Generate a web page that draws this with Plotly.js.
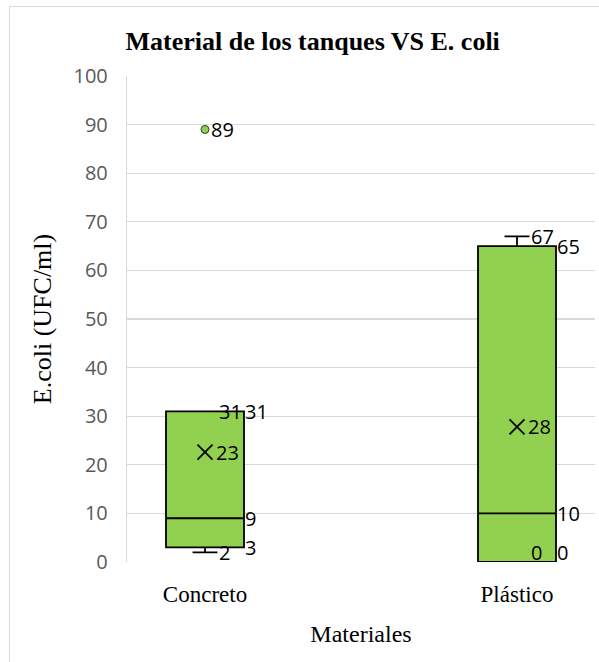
<!DOCTYPE html>
<html>
<head>
<meta charset="utf-8">
<script src="https://cdn.plot.ly/plotly-3.0.1.min.js"></script>
<style>
  body { margin: 0; background: #fff; }
  #wrap { position: relative; width: 599px; height: 662px; overflow: hidden; }
  #frame { position: absolute; left: 9px; top: 6px; width: 800px; height: 800px;
           border-left: 1px solid #d9d9d9; border-top: 1px solid #d9d9d9; pointer-events: none; }
</style>
</head>
<body>
<div id="wrap">
  <div id="myDiv" style="width:599px;height:662px;"></div>
  <div id="frame"></div>
</div>
<script>
// box and whisker values
const materiales = ['Concreto', 'Plástico'];
const minimos = [2, 0];
const cuartil1 = [3, 0];
const medianas = [9, 10];
const cuartil3 = [31, 65];
const maximos = [31, 67];
const medias = [22.6, 27.8];

// points outside the whiskers
const atipicoX = ['Concreto'];
const atipicoY = [89];

const verde = '#92D050';
const fuenteNum = 'Open Sans, Liberation Sans, sans-serif';
const fuenteSerif = 'Liberation Serif, Times New Roman, serif';

const cajas = {
    type: 'box',
    x: materiales,
    q1: cuartil1,
    median: medianas,
    q3: cuartil3,
    lowerfence: minimos,
    upperfence: maximos,
    boxpoints: false,
    width: 0.25,
    whiskerwidth: 0.32,
    fillcolor: verde,
    line: { color: '#000000', width: 1.8 },
    hoverinfo: 'skip'
};

const marcaMedia = {
    type: 'scatter',
    mode: 'markers',
    x: materiales,
    y: medias,
    marker: { symbol: 'x-thin-open', size: 15, color: '#000000', line: { color: '#000000', width: 1.8 } },
    hoverinfo: 'skip'
};

const marcaAtipico = {
    type: 'scatter',
    mode: 'markers',
    x: atipicoX,
    y: atipicoY,
    marker: { symbol: 'circle', size: 8, color: verde, line: { color: '#3a3a3a', width: 1 } },
    hoverinfo: 'skip'
};

// data labels: those next to the centre line, and those at the box edge
function etiqueta(i, valor, xshift) {
    return {
        x: i, y: valor, xref: 'x', yref: 'y',
        text: String(Math.round(valor)),
        showarrow: false,
        xanchor: 'left', yanchor: 'middle',
        xshift: xshift,
        yshift: valor === 0 ? 10 : 0,
        font: { family: fuenteNum, size: 20, color: '#000000' }
    };
}

let anotaciones = [];
materiales.forEach((m, i) => {
    anotaciones.push(etiqueta(i, maximos[i], 12));
    anotaciones.push(etiqueta(i, minimos[i], 12));
    anotaciones.push(etiqueta(i, medias[i], 9));
    anotaciones.push(etiqueta(i, cuartil3[i], 38));
    anotaciones.push(etiqueta(i, medianas[i], 38));
    anotaciones.push(etiqueta(i, cuartil1[i], 38));
});
atipicoY.forEach((v, k) => {
    anotaciones.push(etiqueta(materiales.indexOf(atipicoX[k]), v, 4));
});

const layout = {
    width: 599,
    height: 662,
    margin: { l: 127, r: 4, t: 76, b: 100 },
    paper_bgcolor: 'rgba(0,0,0,0)',
    plot_bgcolor: '#ffffff',
    showlegend: false,
    hovermode: false,
    title: {
        text: '<b>Material de los tanques VS E. coli</b>',
        font: { family: fuenteSerif, size: 26, color: '#000000' },
        xref: 'container', x: 0.522, xanchor: 'center',
        yref: 'container', y: 1 - 41 / 662, yanchor: 'middle'
    },
    xaxis: {
        type: 'category',
        categoryarray: materiales,
        range: [-0.25, 1.25],
        showgrid: false,
        zeroline: false,
        showline: false,
        ticks: '',
        ticklabelstandoff: 16,
        tickfont: { family: fuenteSerif, size: 23, color: '#000000' },
        title: {
            text: 'Materiales',
            font: { family: fuenteSerif, size: 24, color: '#000000' },
            standoff: 19
        }
    },
    yaxis: {
        range: [0, 100],
        dtick: 10,
        showgrid: true,
        gridcolor: '#d9d9d9',
        gridwidth: 1.2,
        zeroline: false,
        showline: true,
        linecolor: '#d9d9d9',
        linewidth: 1.2,
        ticks: '',
        ticklabelstandoff: 14,
        tickfont: { family: fuenteNum, size: 20, color: '#595959' },
        title: {
            text: 'E.coli (UFC/ml)',
            font: { family: fuenteSerif, size: 26, color: '#000000' },
            standoff: 14
        }
    },
    annotations: anotaciones
};

Plotly.newPlot('myDiv', [cajas, marcaMedia, marcaAtipico], layout, { displayModeBar: false, staticPlot: true });
</script>
</body>
</html>
